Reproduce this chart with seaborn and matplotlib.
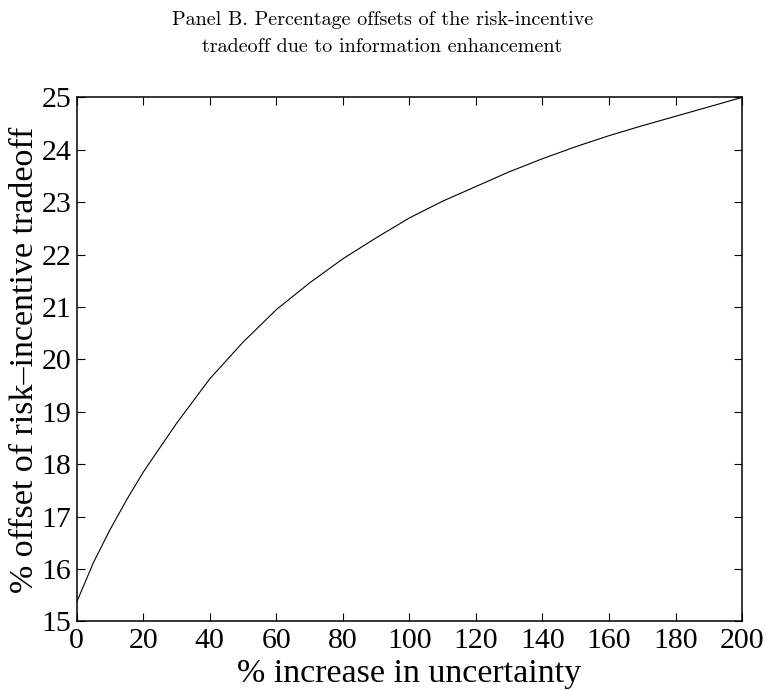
import matplotlib
matplotlib.use("Agg")
import matplotlib.pyplot as plt
import seaborn as sns
import pandas as pd

# Data
uncertainty_increase = [0, 5, 10, 15, 20, 30, 40, 50, 60, 70, 80, 90, 100,
                        110, 120, 130, 140, 150, 160, 170, 180, 190, 200]
offset_pct = [15.37, 16.12, 16.75, 17.32, 17.85, 18.78, 19.63, 20.33, 20.95, 21.46, 21.92,
              22.32, 22.70, 23.02, 23.30, 23.58, 23.83, 24.06, 24.27, 24.46, 24.64, 24.82, 25.00]
x_ticks = [0, 20, 40, 60, 80, 100, 120, 140, 160, 180, 200]
y_ticks = [15, 16, 17, 18, 19, 20, 21, 22, 23, 24, 25]

title_text = "Panel B. Percentage offsets of the risk-incentive\ntradeoff due to information enhancement"
x_label = "% increase in uncertainty"
y_label = "% offset of risk\u2013incentive tradeoff"

sns.set_theme(style="ticks")
plt.rcParams['font.family'] = ['Liberation Serif', 'DejaVu Serif']
plt.rcParams['axes.unicode_minus'] = False

df = pd.DataFrame({"x": uncertainty_increase, "y": offset_pct})

fig = plt.figure(figsize=(7.65, 6.9), dpi=100)
ax = fig.add_axes([0.1003, 0.0994, 0.8697, 0.7594])
sns.lineplot(data=df, x="x", y="y", ax=ax, color="black", linewidth=0.8)

ax.set_xlim(0, 200)
ax.set_ylim(15, 25)
ax.set_xticks(x_ticks)
ax.set_yticks(y_ticks)
ax.tick_params(direction="in", length=6, width=0.8, top=True, right=True,
               labelsize=21.5, colors="black", pad=4)
ax.tick_params(axis="x", pad=5)
for s in ax.spines.values():
    s.set_visible(True)
    s.set_linewidth(1.1)
    s.set_color("black")

ax.set_xlabel(x_label, fontsize=24.5, labelpad=3, color="black")
ax.set_ylabel(y_label, fontsize=24.5, labelpad=1, color="black")

fig.text(0.5, 0.951, title_text, ha="center", va="center", fontsize=14.5,
         family=["cmr10", "DejaVu Serif"], linespacing=1.65, color="black")

fig.savefig("out.png", dpi=100)
